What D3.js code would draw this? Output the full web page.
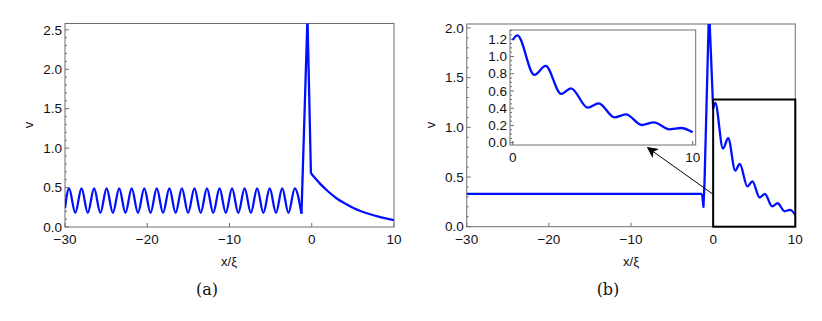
<!DOCTYPE html>
<html>
<head>
<meta charset="utf-8">
<script src="https://cdn.jsdelivr.net/npm/d3@7"></script>
<style>
  body { margin: 0; background: #fff; }
</style>
</head>
<body>
<script>
var w = 822, h = 321;

// panel (a): oscillating part, spike, decaying tail  [x/xi, v]
var waveA = [[-30,0.24],[-29.51,0.49],[-28.75,0.18],[-27.99,0.49],[-27.23,0.18],[-26.46,0.49],[-25.70,0.18],
  [-24.94,0.49],[-24.18,0.18],[-23.41,0.49],[-22.65,0.18],[-21.89,0.49],[-21.13,0.18],[-20.36,0.49],
  [-19.60,0.18],[-18.84,0.49],[-18.08,0.18],[-17.31,0.49],[-16.55,0.18],[-15.79,0.49],[-15.03,0.18],
  [-14.26,0.49],[-13.50,0.18],[-12.74,0.49],[-11.98,0.18],[-11.21,0.49],[-10.45,0.18],[-9.69,0.49],
  [-8.93,0.18],[-8.16,0.49],[-7.40,0.18],[-6.64,0.49],[-5.88,0.18],[-5.11,0.49],[-4.35,0.18],
  [-3.59,0.49],[-2.83,0.18],[-2.06,0.49],[-1.25,0.17]];
var spikeA = [[-1.25,0.17],[-0.52,2.66],[-0.1,0.68]];
var tailA = [[-0.1,0.68],[1,0.55],[2,0.45],[3,0.365],[4,0.30],[5,0.245],[6,0.20],[7,0.165],[8,0.135],[9,0.11],[10,0.088]];

// panel (b)
var flatB = [[-30,0.33],[-1.34,0.33]];
var spikeB = [[-1.34,0.33],[-1.25,0.26],[-1.18,0.20],[-1.05,0.45],[-0.5,2.2],[0,1.19]];
var tailB = [[0,1.19],[0.26,1.245],[1.2,0.786],[1.83,0.89],[2.69,0.565],[3.24,0.631],[4.17,0.406],
  [4.78,0.457],[5.65,0.294],[6.30,0.329],[7.17,0.205],[7.85,0.236],[8.7,0.155],[9.35,0.170],[10,0.12]];
var boxB = {x0: 0, x1: 10, top: 1.28};

var xTicks = [-30, -20, -10, 0, 10];
var yTicksA = [0, 0.5, 1.0, 1.5, 2.0, 2.5];
var yTicksB = [0, 0.5, 1.0, 1.5, 2.0];
var insetYTicks = [0, 0.2, 0.4, 0.6, 0.8, 1.0, 1.2];
var insetXTicks = [0, 10];

var svg = d3.select('body').append('svg').attr('width', w).attr('height', h)
  .attr('font-family', '"Liberation Sans", Arial, Helvetica, sans-serif').attr('fill', '#111');
svg.append('rect').attr('width', w).attr('height', h).attr('fill', 'white');

var frameColor = '#6e6e6e';
var blue = '#0010ff';
var fs = 13.5;

function minorTicks(lo, hi, step, majors) {
  var out = [];
  for (var i = Math.round(lo / step); i * step <= hi + 1e-9; i++) {
    var v = +(i * step).toFixed(4);
    if (majors.indexOf(v) < 0) out.push(v);
  }
  return out;
}

function frame(g, x, y, opt) {
  var x0 = x.range()[0], x1 = x.range()[1], y0 = y.range()[0], y1 = y.range()[1];
  g.append('rect').attr('x', x0).attr('y', y1).attr('width', x1 - x0).attr('height', y0 - y1)
    .attr('fill', 'white').attr('stroke', frameColor).attr('stroke-width', 1);
  // left ticks inside
  opt.yTicks.forEach(function(t){
    g.append('line').attr('x1', x0).attr('x2', x0 + 4).attr('y1', y(t)).attr('y2', y(t))
      .attr('stroke', frameColor);
    g.append('text').attr('x', x0 - 3).attr('y', y(t)).attr('dy', '0.35em')
      .attr('text-anchor', 'end').style('font-size', opt.fs + 'px').text(d3.format('.1f')(t));
  });
  minorTicks(y.domain()[0] < 0 ? 0 : y.domain()[0], y.domain()[1], opt.yMinor, opt.yTicks).forEach(function(t){
    g.append('line').attr('x1', x0).attr('x2', x0 + 2).attr('y1', y(t)).attr('y2', y(t))
      .attr('stroke', frameColor);
  });
  opt.xTicks.forEach(function(t){
    g.append('line').attr('x1', x(t)).attr('x2', x(t)).attr('y1', y0).attr('y2', y0 - 4)
      .attr('stroke', frameColor);
    g.append('text').attr('x', x(t)).attr('y', y0 + opt.xLabelDy)
      .attr('text-anchor', 'middle').style('font-size', opt.fs + 'px')
      .text(t < 0 ? '\u2212' + Math.abs(t) : t);
  });
}

var lineMono = d3.line().x(function(d){ return d[0]; }).y(function(d){ return d[1]; }).curve(d3.curveMonotoneX);
var lineLin = d3.line().x(function(d){ return d[0]; }).y(function(d){ return d[1]; });

function drawPath(g, data, x, y, curved, clipId) {
  var pts = data.map(function(d){ return [x(d[0]), y(d[1])]; });
  g.append('path').attr('d', (curved ? lineMono : lineLin)(pts))
    .attr('fill', 'none').attr('stroke', blue).attr('stroke-width', 2.3)
    .attr('stroke-linejoin', 'round')
    .attr('clip-path', 'url(#' + clipId + ')');
}

function clip(id, x, y) {
  svg.append('clipPath').attr('id', id).append('rect')
    .attr('x', x.range()[0]).attr('y', y.range()[1])
    .attr('width', x.range()[1] - x.range()[0]).attr('height', y.range()[0] - y.range()[1]);
}

// ---------- panel (a)
var xa = d3.scaleLinear().domain([-30, 10]).range([65, 394]);
var ya = d3.scaleLinear().domain([0, 2.58]).range([227, 23.5]);
var ga = svg.append('g');
clip('clipA', xa, ya);
frame(ga, xa, ya, {yTicks: yTicksA, yMinor: 0.1, xTicks: xTicks, fs: fs, xLabelDy: 17});
drawPath(ga, waveA, xa, ya, true, 'clipA');
drawPath(ga, spikeA, xa, ya, false, 'clipA');
drawPath(ga, tailA, xa, ya, true, 'clipA');

ga.append('text').attr('x', 229).attr('y', 266).attr('text-anchor', 'middle')
  .style('font-size', '13px').text('x/\u03BE');
ga.append('text').attr('transform', 'translate(33,125) rotate(-90)').attr('text-anchor', 'middle')
  .style('font-size', '13px').text('v');
ga.append('text').attr('x', 207).attr('y', 295).attr('text-anchor', 'middle')
  .style('font-family', '"DejaVu Serif", "Liberation Serif", serif').style('font-size', '16px').text('(a)');

// ---------- panel (b)
var xb = d3.scaleLinear().domain([-30, 10]).range([466.7, 795.3]);
var yb = d3.scaleLinear().domain([0, 2.04]).range([226.7, 24]);
var gb = svg.append('g');
clip('clipB', xb, yb);
frame(gb, xb, yb, {yTicks: yTicksB, yMinor: 0.1, xTicks: xTicks, fs: fs, xLabelDy: 17});
drawPath(gb, flatB, xb, yb, false, 'clipB');
drawPath(gb, spikeB, xb, yb, false, 'clipB');
drawPath(gb, tailB, xb, yb, true, 'clipB');

gb.append('rect').attr('x', xb(boxB.x0)).attr('y', yb(boxB.top))
  .attr('width', xb(boxB.x1) - xb(boxB.x0)).attr('height', yb(0) - yb(boxB.top))
  .attr('fill', 'none').attr('stroke', 'black').attr('stroke-width', 2);

// inset
var xi = d3.scaleLinear().domain([-0.15, 10.17]).range([510, 695.7]);
var yi = d3.scaleLinear().domain([-0.027, 1.307]).range([145, 30]);
var gi = svg.append('g');
clip('clipI', xi, yi);
frame(gi, xi, yi, {yTicks: insetYTicks, yMinor: 0.05, xTicks: insetXTicks, fs: fs, xLabelDy: 17});
drawPath(gi, tailB, xi, yi, true, 'clipI');

// arrow from box corner to inset
svg.append('defs').append('marker').attr('id', 'arr').attr('viewBox', '0 0 10 10')
  .attr('refX', 9).attr('refY', 5).attr('markerWidth', 11).attr('markerHeight', 11)
  .attr('markerUnits', 'userSpaceOnUse').attr('orient', 'auto')
  .append('path').attr('d', 'M0,0 L10,5 L0,10 L2.5,5 Z').attr('fill', 'black');
svg.append('line').attr('x1', xb(0)).attr('y1', 194.3).attr('x2', 647.7).attr('y2', 147.7)
  .attr('stroke', 'black').attr('stroke-width', 1).attr('marker-end', 'url(#arr)');

gb.append('text').attr('x', 631).attr('y', 266).attr('text-anchor', 'middle')
  .style('font-size', '13px').text('x/\u03BE');
gb.append('text').attr('transform', 'translate(435,125) rotate(-90)').attr('text-anchor', 'middle')
  .style('font-size', '13px').text('v');
gb.append('text').attr('x', 608).attr('y', 295).attr('text-anchor', 'middle')
  .style('font-family', '"DejaVu Serif", "Liberation Serif", serif').style('font-size', '16px').text('(b)');
</script>
</body>
</html>
